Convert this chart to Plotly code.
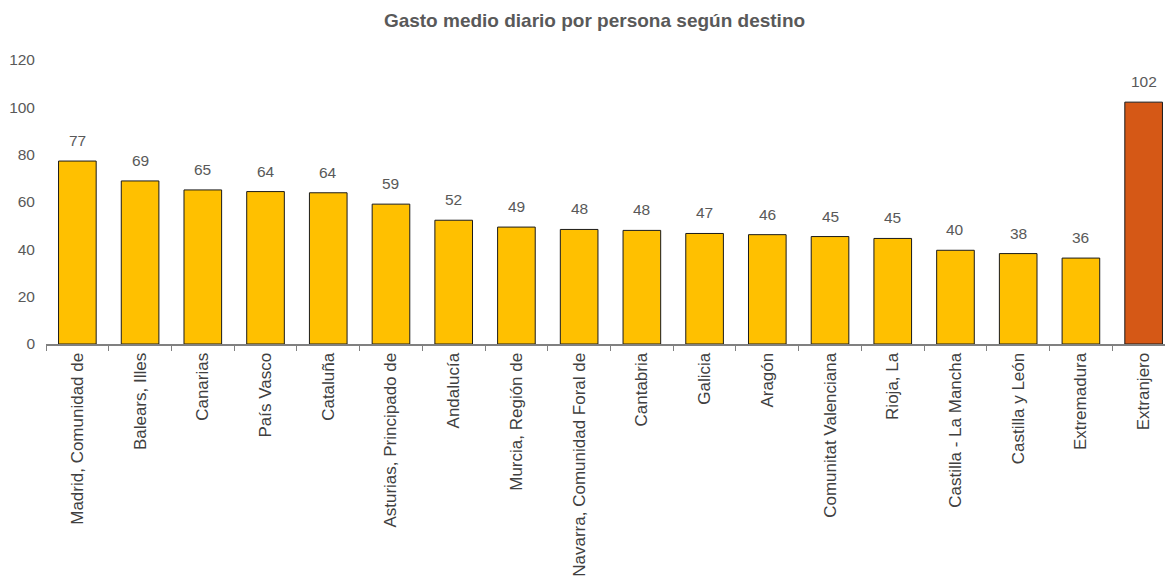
import plotly.graph_objects as go

categories = ["Madrid, Comunidad de", "Balears, Illes", "Canarias", "País Vasco", "Cataluña",
              "Asturias, Principado de", "Andalucía", "Murcia, Región de",
              "Navarra, Comunidad Foral de", "Cantabria", "Galicia", "Aragón",
              "Comunitat Valenciana", "Rioja, La", "Castilla - La Mancha", "Castilla y León",
              "Extremadura", "Extranjero"]
values = [77.3, 68.9, 65.1, 64.4, 63.9, 59.1, 52.3, 49.4, 48.4, 48.0, 46.7, 46.2,
          45.4, 44.6, 39.6, 38.2, 36.3, 102.2]
colors = ["#FFC000"] * 17 + ["#D55816"]

FONT = "Liberation Sans, Arial"

fig = go.Figure(go.Bar(
    x=categories, y=values,
    marker=dict(color=colors, line=dict(color="#1a1a1a", width=1)),
    width=0.6,
))
for c, v in zip(categories, values):
    fig.add_annotation(x=c, y=v, text=f"{v:.0f}", showarrow=False,
                       yanchor="bottom", yshift=10,
                       font=dict(family=FONT, size=15.5, color="#595959"))

fig.update_layout(
    width=1173, height=581,
    paper_bgcolor="white", plot_bgcolor="white",
    margin=dict(l=38, r=6, t=52, b=245),
    title=dict(text="<b>Gasto medio diario por persona según destino</b>",
               x=0.5, xanchor="center", y=0.979, yanchor="middle",
               font=dict(family=FONT, size=19, color="#595959")),
    font=dict(family=FONT, size=15.5, color="#595959"),
    showlegend=False,
)
fig.update_yaxes(range=[0, 120], dtick=20, showgrid=False, zeroline=False,
                 showline=False, ticks="", ticklabelstandoff=10, automargin=False,
                 tickfont=dict(family=FONT, size=15.5, color="#595959"))
fig.update_xaxes(showline=True, linecolor="#808080", linewidth=2, ticks="outside",
                 tickson="boundaries", ticklen=5, tickcolor="#808080",
                 tickangle=-90, tickfont=dict(family=FONT, size=17, color="#404040"),
                 showgrid=False, automargin=False)
fig.write_html("out.html")
